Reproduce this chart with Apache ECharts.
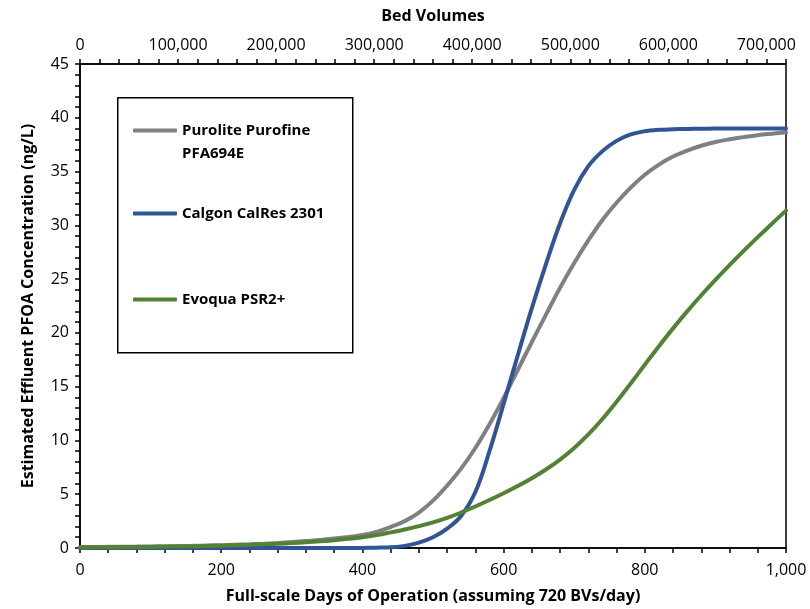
<!DOCTYPE html>
<html>
<head>
<meta charset="utf-8">
<script src="https://cdn.jsdelivr.net/npm/echarts@6/dist/echarts.min.js"></script>
<style>html,body{margin:0;padding:0;background:#fff}#c{width:810px;height:609px}</style>
</head>
<body>
<div id="c"></div>
<script>
var days = [0,20,40,60,80,100,120,140,160,180,200,220,240,260,280,300,320,340,360,380,400,420,440,460,480,500,520,540,560,580,600,620,640,660,680,700,720,740,760,780,800,820,840,860,880,900,920,940,960,980,1000];
var purolite = [0.1,0.1,0.11,0.12,0.13,0.15,0.16,0.18,0.2,0.23,0.26,0.3,0.34,0.39,0.46,0.55,0.65,0.75,0.88,1.03,1.2,1.5,1.95,2.5,3.3,4.4,5.8,7.4,9.3,11.5,13.95,16.55,19.15,21.7,24.2,26.5,28.6,30.5,32.1,33.5,34.7,35.65,36.4,36.95,37.4,37.75,38.0,38.2,38.38,38.52,38.65];
var calgon = [0,0,0,0,0,0,0,0,0,0,0,0,0,0,0,0,0,0,0,0,0.01,0.03,0.07,0.2,0.5,1.0,1.8,3.0,5.2,9.0,13.4,17.9,22.3,26.4,30.2,33.3,35.5,36.9,37.85,38.45,38.75,38.88,38.93,38.96,38.98,39.0,39.0,39.0,39.0,39.0,39.0];
var evoqua = [0.05,0.06,0.07,0.08,0.09,0.1,0.12,0.14,0.16,0.19,0.22,0.26,0.3,0.35,0.4,0.46,0.53,0.62,0.72,0.85,1.0,1.2,1.45,1.72,2.03,2.38,2.8,3.3,3.86,4.46,5.09,5.76,6.49,7.3,8.22,9.3,10.56,12.0,13.6,15.3,17.04,18.76,20.42,22.0,23.5,24.93,26.3,27.62,28.9,30.15,31.37];
var seriesNames = ['Purolite Purofine PFA694E', 'Calgon CalRes 2301', 'Evoqua PSR2+'];
var seriesColors = ['#808080', '#2F5597', '#548235'];
var seriesValues = [purolite, calgon, evoqua];
var xTitle = 'Full-scale Days of Operation (assuming 720 BVs/day)';
var topTitle = 'Bed Volumes';
var yTitle = 'Estimated Effluent PFOA Concentration (ng/L)';

var FONT = 'Open Sans';
var fmt = function (v) { return Number(v).toLocaleString('en-US'); };
var axisCommon = {
  axisLine: { show: true, onZero: false, lineStyle: { color: '#000', width: 1.5 } },
  axisTick: { show: true, inside: false, length: 5, lineStyle: { color: '#000', width: 1.5 } },
  minorTick: { show: true, splitNumber: 5, length: 5, lineStyle: { color: '#000', width: 1.5 } },
  splitLine: { show: false },
  minorSplitLine: { show: false },
  nameLocation: 'middle',
  nameTextStyle: { fontFamily: FONT, fontWeight: 'bold', fontSize: 16, color: '#000' }
};
function mk(extra) { return Object.assign({}, JSON.parse(JSON.stringify(axisCommon)), extra); }

var series = seriesValues.map(function (vals, i) {
  return {
    name: seriesNames[i],
    type: 'line',
    data: days.map(function (d, j) { return [d, vals[j]]; }),
    showSymbol: false,
    smooth: 0.4,
    lineStyle: { color: seriesColors[i], width: 4, cap: 'round' },
    itemStyle: { color: seriesColors[i] },
    z: 2 + i
  };
});

var legendText = { fontFamily: FONT, fontWeight: 'bold', fontSize: 15, color: '#000', lineHeight: 23 };
function legendFor(i, top, fmtFn) {
  return {
    data: [seriesNames[i]], orient: 'vertical', left: 133, top: top, padding: 0,
    itemWidth: 44, itemHeight: 4, icon: 'roundRect', selectedMode: false,
    textStyle: legendText, formatter: fmtFn
  };
}

var chart = echarts.init(document.getElementById('c'), null, { renderer: 'canvas' });
chart.setOption({
  animation: false,
  backgroundColor: '#fff',
  grid: { left: 80, right: 24, top: 64, bottom: 60, show: true, borderColor: '#000', borderWidth: 1.5, backgroundColor: 'transparent' },
  xAxis: [
    mk({ type: 'value', position: 'bottom', min: 0, max: 1000, interval: 200,
      name: xTitle, nameGap: 40,
      axisLabel: { margin: 14, formatter: fmt, fontFamily: FONT, fontSize: 16, color: '#000' } }),
    mk({ type: 'value', position: 'top', min: 0, max: 720000, interval: 100000,
      name: topTitle, nameGap: 40,
      axisLabel: { margin: 11, formatter: fmt, showMaxLabel: false, fontFamily: FONT, fontSize: 16, color: '#000' } })
  ],
  yAxis: [
    mk({ type: 'value', min: 0, max: 45, interval: 5,
      name: yTitle, nameGap: 44,
      axisLabel: { margin: 11, fontFamily: FONT, fontSize: 16, color: '#000' } })
  ],
  legend: [
    legendFor(0, 96, function () { return '\nPurolite Purofine\nPFA694E'; }),
    legendFor(1, 202, function (n) { return n; }),
    legendFor(2, 288, function (n) { return n; })
  ],
  graphic: [{
    type: 'rect', left: 117, top: 97, z: 1,
    shape: { width: 235, height: 255 },
    style: { fill: '#fff', stroke: '#000', lineWidth: 1.5 }
  }],
  series: series
});
</script>
</body>
</html>
